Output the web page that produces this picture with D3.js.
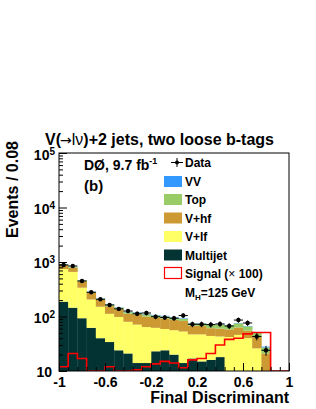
<!DOCTYPE html>
<html>
<head>
<meta charset="utf-8">
<script src="https://cdn.jsdelivr.net/npm/d3@7"></script>
<style>
    body { margin: 0; background: #ffffff; }
    svg text { font-family: "Liberation Sans", Arial, Helvetica, sans-serif; font-weight: bold; fill: #000; }
</style>
</head>
<body>
<div id="chart"></div>
<script>
// ----------------------------------------------------------------------------------------------------
// DATA
// ----------------------------------------------------------------------------------------------------

var binCenters = [-0.96, -0.88, -0.80, -0.72, -0.64, -0.56, -0.48, -0.40, -0.32, -0.24, -0.16, -0.08, 0.00,
                  0.08, 0.16, 0.24, 0.32, 0.40, 0.48, 0.56, 0.64, 0.72, 0.80, 0.88, 0.96];
var binWidth = 0.08;

var dataCounts = [881, 845, 448, 278, 207, 163, 138, 126, 112, 116, 99, 96, 93, 104, 72, 72, 71, 73, 67, 86, 76, 43, 24, 0, 0];

var multijet = [187, 145, 93, 62, 40, 34, 24, 21, 14, 14, 23, 24, 20, 14, 17, 15, 16, 18, 9, 6, 5, 3, 1, 0, 0];
var vlf      = [555, 513, 245, 143, 111, 78, 74, 59, 57, 50, 39, 35, 36, 39, 30, 32, 28, 25, 33, 40, 35, 23, 1, 0, 0];
var vhf      = [130, 125, 105, 68, 52, 42, 38, 32, 38, 36, 34, 33, 31, 30, 21, 20, 17, 17, 16, 17, 15, 16, 19, 0, 0];
var topBkg   = [35, 30, 18, 12, 10, 9, 9, 8, 9, 9, 9, 9, 8, 8, 7, 7, 11, 11, 11, 12, 11, 9, 6, 0, 0];
var vv       = [8, 7, 4, 3, 2, 2, 2, 2, 2, 2, 2, 2, 2, 2, 1, 1, 1, 1, 1, 1, 1, 1, 1, 0, 0];

var signalX100 = [12, 21, 17, 7, 6, 12, 8, 9, 10.5, 12, 13.5, 15, 14, 11.5, 16, 17, 21, 30, 38, 40, 48, 51, 51, 0, 0];

var xTickMajor = [-1, -0.6, -0.2, 0.2, 0.6, 1];
var xTickLabels = ["-1", "-0.6", "-0.2", "0.2", "0.6", "1"];
var yTickMajor = [10, 100, 1000, 10000, 100000];
var yTickExp = ["", "2", "3", "4", "5"];

// ----------------------------------------------------------------------------------------------------
// CHART
// ----------------------------------------------------------------------------------------------------

function chart_Draw(ele) {
    var w = 316, h = 409;
    var frame = { left: 59, right: 289, top: 153, bottom: 371 };

    var svg = d3.select(ele)
        .append("svg")
        .attr("width", w)
        .attr("height", h);

    // Scales
    var x = d3.scaleLinear().domain([-1, 1]).range([frame.left, frame.right]);
    var y = d3.scaleLog().domain([10, 100000]).range([frame.bottom, frame.top]);
    var yc = function(v) { return y(Math.max(v, 10)); };

    svg.append("clipPath").attr("id", "plotClip")
        .append("rect")
        .attr("x", frame.left).attr("y", frame.top)
        .attr("width", frame.right - frame.left).attr("height", frame.bottom - frame.top);

    var plot = svg.append("g").attr("clip-path", "url(#plotClip)");

    // Stack (bottom -> top)
    var layers = [
        { name: "Multijet", values: multijet, color: "#033333" },
        { name: "V+lf", values: vlf, color: "#ffff66" },
        { name: "V+hf", values: vhf, color: "#cc9933" },
        { name: "Top", values: topBkg, color: "#99cc66" },
        { name: "VV", values: vv, color: "#3399ff" }
    ];
    var base = binCenters.map(function() { return 0; });
    layers.forEach(function(layer) {
        var rows = binCenters.map(function(c, i) {
            var lo = base[i], hi = base[i] + layer.values[i];
            base[i] = hi;
            return { c: c, lo: lo, hi: hi };
        });
        plot.selectAll(null)
            .data(rows.filter(function(d) { return d.hi > 10 && d.hi > d.lo; }))
            .enter()
            .append("rect")
            .attr("x", function(d) { return x(d.c - binWidth / 2); })
            .attr("width", function(d) { return x(d.c + binWidth / 2) - x(d.c - binWidth / 2) + 0.3; })
            .attr("y", function(d) { return yc(d.hi); })
            .attr("height", function(d) { return yc(d.lo) - yc(d.hi); })
            .attr("fill", layer.color);
    });

    // Signal outline
    var sigPts = binCenters.map(function(c, i) { return [c - binWidth / 2, signalX100[i]]; });
    sigPts.push([1, signalX100[signalX100.length - 1]]);
    plot.append("path")
        .datum(sigPts)
        .attr("fill", "none")
        .attr("stroke", "#ff0000")
        .attr("stroke-width", 1.6)
        .attr("d", d3.line()
            .x(function(d) { return x(d[0]); })
            .y(function(d) { return yc(d[1]); })
            .curve(d3.curveStepAfter));

    // Data points
    var pts = binCenters.map(function(c, i) { return { c: c, n: dataCounts[i] }; })
        .filter(function(d) { return d.n > 0; });
    var dataG = plot.append("g");
    dataG.selectAll(".ev").data(pts).enter().append("line")
        .attr("x1", function(d) { return x(d.c); }).attr("x2", function(d) { return x(d.c); })
        .attr("y1", function(d) { return yc(d.n - Math.sqrt(d.n)); })
        .attr("y2", function(d) { return yc(d.n + Math.sqrt(d.n)); })
        .attr("stroke", "#000").attr("stroke-width", 1);
    dataG.selectAll(".eh").data(pts).enter().append("line")
        .attr("x1", function(d) { return x(d.c - binWidth / 2); })
        .attr("x2", function(d) { return x(d.c + binWidth / 2); })
        .attr("y1", function(d) { return y(d.n); }).attr("y2", function(d) { return y(d.n); })
        .attr("stroke", "#000").attr("stroke-width", 1);
    dataG.selectAll("circle").data(pts).enter().append("circle")
        .attr("cx", function(d) { return x(d.c); })
        .attr("cy", function(d) { return y(d.n); })
        .attr("r", 2.2)
        .attr("fill", "#000");

    // Axes ticks
    var xMinor = d3.range(26).map(function(i) { return -1 + i * binWidth; });
    svg.append("g")
        .attr("transform", "translate(0," + frame.bottom + ")")
        .call(d3.axisBottom(x).tickValues(xMinor).tickSizeInner(-4).tickSizeOuter(0).tickFormat(""))
        .call(function(g) { g.select(".domain").remove(); });
    svg.append("g")
        .attr("transform", "translate(0," + frame.bottom + ")")
        .call(d3.axisBottom(x).tickValues(xTickMajor).tickSizeInner(-8).tickSizeOuter(0).tickPadding(6)
            .tickFormat(function(d, i) { return xTickLabels[i]; }))
        .call(function(g) {
            g.select(".domain").remove();
            g.selectAll("text").attr("font-size", "14px").attr("font-family", null);
        });

    var yMinor = [];
    [10, 100, 1000, 10000].forEach(function(d) {
        for (var k = 2; k <= 9; k++) yMinor.push(d * k);
    });
    svg.append("g")
        .attr("transform", "translate(" + frame.left + ",0)")
        .call(d3.axisLeft(y).tickValues(yMinor).tickSizeInner(-4).tickSizeOuter(0).tickFormat(""))
        .call(function(g) { g.select(".domain").remove(); });
    svg.append("g")
        .attr("transform", "translate(" + frame.left + ",0)")
        .call(d3.axisLeft(y).tickValues(yTickMajor).tickSizeInner(-8).tickSizeOuter(0).tickFormat(""))
        .call(function(g) { g.select(".domain").remove(); });

    // Y tick labels (powers of ten)
    var yLab = svg.selectAll(".ylab").data(yTickMajor).enter().append("text")
        .attr("class", "ylab")
        .attr("x", function(d, i) { return yTickExp[i] ? 55 : 52; })
        .attr("y", function(d, i) { return y(d) + (i === yTickMajor.length - 1 ? 7 : 6); })
        .attr("text-anchor", "end")
        .attr("font-size", "14px");
    yLab.append("tspan").text("10");
    yLab.filter(function(d, i) { return yTickExp[i]; })
        .append("tspan")
        .attr("font-size", "10px")
        .attr("dy", -5)
        .text(function(d) { return yTickExp[yTickMajor.indexOf(d)]; });

    // Frame
    svg.append("rect")
        .attr("x", frame.left).attr("y", frame.top)
        .attr("width", frame.right - frame.left).attr("height", frame.bottom - frame.top)
        .attr("fill", "none").attr("stroke", "#000").attr("stroke-width", 1);

    // Titles
    var title = svg.append("text").attr("x", 45).attr("y", 144.5).attr("font-size", "16px");
    title.append("tspan").text("V(");
    title.append("tspan").attr("font-family", "'DejaVu Sans', sans-serif").attr("font-weight", "normal")
        .attr("font-size", "14px").attr("dx", -1).text("\u2192");
    title.append("tspan").attr("font-weight", "normal").text("l\u03bd");
    title.append("tspan").text(")+2 jets, two loose b-tags");

    svg.append("text")
        .attr("transform", "translate(18,141) rotate(-90)")
        .attr("text-anchor", "end")
        .attr("font-size", "16px")
        .text("Events / 0.08");

    svg.append("text")
        .attr("x", 289).attr("y", 403)
        .attr("text-anchor", "end")
        .attr("font-size", "16px")
        .text("Final Discriminant");

    var lumi = svg.append("text").attr("x", 84).attr("y", 170).attr("font-size", "14px");
    lumi.append("tspan").text("D\u00d8, 9.7 fb");
    lumi.append("tspan").attr("font-size", "9px").attr("dy", -6).text("-1");

    svg.append("text").attr("x", 84).attr("y", 191).attr("font-size", "15px").text("(b)");

    // Legend
    var lg = svg.append("g");
    lg.append("line").attr("x1", 171).attr("x2", 183).attr("y1", 162.5).attr("y2", 162.5).attr("stroke", "#000");
    lg.append("line").attr("x1", 177).attr("x2", 177).attr("y1", 158).attr("y2", 167).attr("stroke", "#000");
    lg.append("circle").attr("cx", 177).attr("cy", 162.5).attr("r", 2).attr("fill", "#000");
    lg.append("text").attr("x", 185).attr("y", 167).attr("font-size", "12px").text("Data");

    var legendRows = [
        { name: "VV", color: "#3399ff", y: 181.5 },
        { name: "Top", color: "#99cc66", y: 199.5 },
        { name: "V+hf", color: "#cc9933", y: 218 },
        { name: "V+lf", color: "#ffff66", y: 236.5 },
        { name: "Multijet", color: "#033333", y: 255 }
    ];
    legendRows.forEach(function(r) {
        lg.append("rect").attr("x", 164).attr("y", r.y - 5.5).attr("width", 18).attr("height", 11).attr("fill", r.color);
        lg.append("text").attr("x", 185).attr("y", r.y + 4.5).attr("font-size", "12px").text(r.name);
    });
    lg.append("rect").attr("x", 164.5).attr("y", 267.5).attr("width", 17).attr("height", 11)
        .attr("fill", "#fff").attr("stroke", "#ff0000").attr("stroke-width", 1.2);
    var sigT = lg.append("text").attr("x", 185).attr("y", 277.5).attr("font-size", "12px");
    sigT.append("tspan").text("Signal (");
    sigT.append("tspan").attr("font-weight", "normal").text("\u00d7");
    sigT.append("tspan").text(" 100)");

    var mh = lg.append("text").attr("x", 185).attr("y", 296.5).attr("font-size", "12px");
    mh.append("tspan").text("M");
    mh.append("tspan").attr("font-size", "8px").attr("dy", 3).text("H");
    mh.append("tspan").attr("dy", -3).text("=125 GeV");
}

chart_Draw("#chart");
</script>
</body>
</html>
